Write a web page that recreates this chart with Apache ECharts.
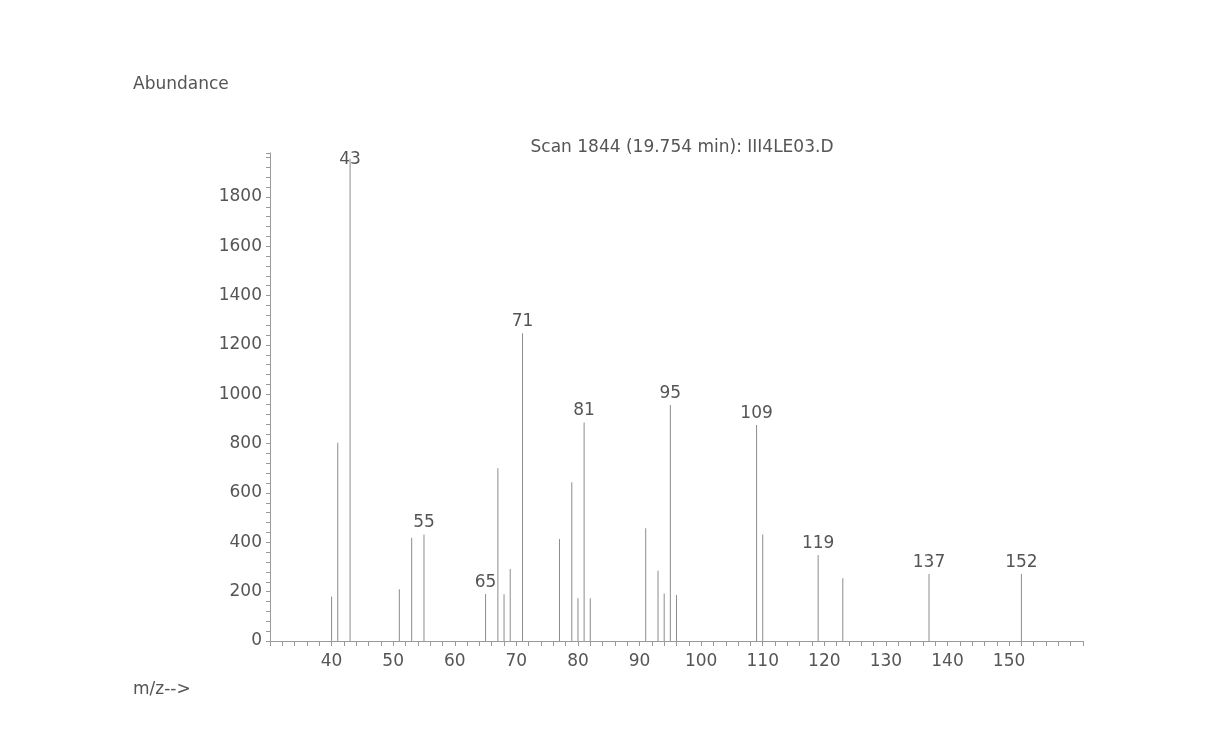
<!DOCTYPE html>
<html>
<head>
<meta charset="utf-8">
<script src="https://cdn.jsdelivr.net/npm/echarts@6/dist/echarts.min.js"></script>
<style>
html,body{margin:0;padding:0;background:#ffffff;}
#chart{width:1222px;height:736px;}
</style>
</head>
<body>
<div id="chart"></div>
<script>
// m/z values of the peaks
const mz = [40, 41, 43, 51, 53, 55, 65, 67, 68, 69, 71, 77, 79, 80, 81, 82, 91, 93, 94, 95, 96, 109, 110, 119, 123, 137, 152];
// abundance of each peak
const abundance = [180, 804, 1955, 210, 419, 432, 190, 700, 189, 292, 1247, 413, 643, 173, 886, 173, 457, 285, 193, 957, 186, 876, 432, 349, 254, 272, 272];
// peaks that carry an m/z label
const labeledPeaks = [43, 55, 65, 71, 81, 95, 109, 119, 137, 152];
// tick labels
const xTickLabels = [40, 50, 60, 70, 80, 90, 100, 110, 120, 130, 140, 150];
const yTickLabels = [0, 200, 400, 600, 800, 1000, 1200, 1400, 1600, 1800];

const titleText = 'Scan 1844 (19.754 min): III4LE03.D';
const yName = 'Abundance';
const xName = 'm/z-->';

const FONT = 'DejaVu Sans';
const TXT = '#555555';
const LINE = '#8c8c8c';
const FS = 17;

const data = mz.map((m, i) => {
  const item = { value: [m, abundance[i]] };
  if (labeledPeaks.includes(m)) {
    item.label = { show: true };
    if (m === 43) item.label.offset = [0, 12];
  }
  return item;
});

const chart = echarts.init(document.getElementById('chart'));
chart.setOption({
  backgroundColor: '#ffffff',
  animation: false,
  title: {
    text: titleText,
    left: 677,
    textAlign: 'center',
    top: 134,
    textStyle: { fontFamily: FONT, fontSize: FS, fontWeight: 'normal', color: TXT }
  },
  graphic: [
    { type: 'text', left: 133, top: 76, style: { text: yName, font: FS + 'px "DejaVu Sans"', fill: TXT } },
    { type: 'text', left: 133, top: 681, style: { text: xName, font: FS + 'px "DejaVu Sans"', fill: TXT } }
  ],
  grid: { left: 270, right: 139, top: 153, bottom: 95, containLabel: false },
  xAxis: {
    type: 'value',
    min: 30,
    max: 162,
    interval: 2,
    splitLine: { show: false },
    axisLine: { show: true, onZero: false, lineStyle: { color: '#9a9a9a', width: 1 } },
    axisTick: { show: true, length: 5, lineStyle: { color: '#9a9a9a' } },
    axisLabel: {
      margin: 12,
      fontFamily: FONT, fontSize: FS, color: TXT,
      formatter: v => xTickLabels.includes(v) ? String(v) : ''
    }
  },
  yAxis: {
    type: 'value',
    min: 0,
    max: 1978,
    interval: 40,
    splitLine: { show: false },
    axisLine: { show: true, lineStyle: { color: '#9a9a9a', width: 1 } },
    axisTick: { show: true, length: 4, lineStyle: { color: '#9a9a9a' } },
    axisLabel: {
      margin: 8,
      fontFamily: FONT, fontSize: FS, color: TXT,
      formatter: v => yTickLabels.includes(v) ? String(v) : ''
    }
  },
  series: [{
    type: 'bar',
    barWidth: 1,
    itemStyle: { color: LINE },
    label: {
      show: false,
      position: 'top',
      distance: 3,
      fontFamily: FONT, fontSize: FS, color: TXT,
      formatter: p => String(p.value[0])
    },
    data: data
  }]
});
</script>
</body>
</html>
